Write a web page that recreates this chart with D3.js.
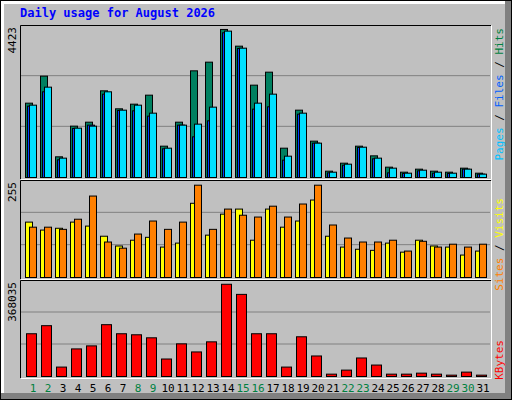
<!DOCTYPE html>
<html>
<head>
<meta charset="utf-8">
<script src="https://cdn.jsdelivr.net/npm/d3@7"></script>
<style>
  body { margin: 0; background: #fff; }
  text { font-family: "DejaVu Sans Mono", monospace; }
</style>
</head>
<body>
<div id="chart"></div>
<script>
const width = 512;
const height = 400;

const days = d3.range(1, 32);
const weekend = [1, 2, 8, 9, 15, 16, 22, 23, 29, 30];

const hits = [2221, 3028, 618, 1534, 1653, 2590, 2052, 2191, 2460, 936, 1653, 3187, 3446, 4423, 3924, 2759,
  3147, 876, 2012, 1086, 189, 428, 936, 647, 309, 159, 249, 189, 159, 279, 129];
const files = [2131, 2560, 528, 1464, 1564, 2490, 2002, 1992, 1833, 857, 1564, 1215, 1693, 4323, 3854, 2042,
  2112, 518, 1892, 1026, 139, 368, 896, 558, 139, 120, 199, 129, 120, 249, 100];
const pages = [2161, 2699, 578, 1474, 1534, 2560, 2012, 2161, 1922, 876, 1564, 1594, 2102, 4373, 3864, 2221,
  2490, 637, 1922, 1026, 159, 398, 906, 578, 279, 129, 219, 159, 129, 249, 100];
const visits = [153, 131, 136, 153, 142, 114, 87, 103, 111, 84, 95, 205, 117, 175, 189, 103,
  189, 139, 156, 214, 114, 84, 78, 75, 95, 70, 103, 87, 84, 62, 73];
const sites = [139, 139, 133, 161, 225, 98, 81, 120, 156, 133, 153, 255, 133, 189, 172, 167,
  197, 167, 203, 255, 145, 109, 98, 98, 103, 73, 100, 84, 92, 84, 92];
const kbytes = [170600, 202800, 37600, 110100, 122200, 206800, 170600, 166500, 154400, 69800, 130300, 98000,
  138300, 368035, 327700, 170600, 170600, 37600, 158500, 81900, 9400, 25500, 73900, 45700, 9400, 9400,
  13400, 9400, 5400, 17500, 5400];

const svg = d3.select('#chart').append('svg')
  .attr('width', width)
  .attr('height', height);

// outer frame
svg.append('rect').attr('width', width).attr('height', height).attr('fill', '#000');
svg.append('rect').attr('x', 1).attr('y', 1).attr('width', width - 2).attr('height', height - 2).attr('fill', '#808080');
svg.append('rect').attr('x', 1).attr('y', 1).attr('width', width - 8).attr('height', height - 8).attr('fill', '#fff');
svg.append('rect').attr('x', 4).attr('y', 4).attr('width', width - 11).attr('height', height - 11).attr('fill', '#c0c0c0');

svg.append('text')
  .attr('x', 20).attr('y', 17)
  .attr('fill', '#0000ff')
  .attr('font-weight', 'bold')
  .attr('font-size', 12)
  .text('Daily usage for August 2026');

const x = d3.scaleBand().domain(days).range([25, 490]);

const panels = [
  { top: 25, bottom: 177, max: 4423 * 1.02, label: '4423' },
  { top: 180, bottom: 277, max: 255 * 1.04, label: '255' },
  { top: 280, bottom: 376, max: 368035 * 1.03, label: '368035' },
];

panels.forEach((p) => {
  p.y = d3.scaleLinear().domain([0, p.max]).range([p.bottom, p.top + 1]);
  const h = p.bottom - p.top;
  [1, 2].forEach((k) => {
    svg.append('line')
      .attr('x1', 21).attr('x2', 490)
      .attr('y1', p.bottom - h * k / 3).attr('y2', p.bottom - h * k / 3)
      .attr('stroke', '#808080');
  });
  svg.append('path').attr('d', `M20.5,${p.bottom + 2}V${p.top + 0.5}H491`).attr('stroke', '#000').attr('fill', 'none');
  svg.append('path').attr('d', `M21,${p.bottom + 2.5}H491.5V${p.top + 0.5}`).attr('stroke', '#fff').attr('fill', 'none');
  svg.append('text')
    .attr('transform', `translate(16,${p.top + 2}) rotate(-90)`)
    .attr('text-anchor', 'end')
    .attr('font-size', 11)
    .attr('fill', '#000')
    .text(p.label);
});

function bars(values, panel, dx, w, color) {
  svg.append('g').selectAll('rect')
    .data(values)
    .join('rect')
    .attr('x', (d, i) => x(days[i]) + dx + 0.5)
    .attr('y', d => panel.y(d) + 0.5)
    .attr('width', w)
    .attr('height', d => panel.bottom - panel.y(d))
    .attr('fill', color)
    .attr('stroke', '#000');
}

bars(hits, panels[0], 0, 7, '#008060');
bars(files, panels[0], 2, 7, '#0040ff');
bars(pages, panels[0], 4, 7, '#00e0ff');
bars(visits, panels[1], 0, 7, '#ffff00');
bars(sites, panels[1], 4, 7, '#ff8000');
bars(kbytes, panels[2], 1, 10, '#ff0000');

// right-side legends
function legend(parts, yTop) {
  const t = svg.append('text')
    .attr('transform', `translate(503,${yTop}) rotate(-90)`)
    .attr('text-anchor', 'end')
    .attr('font-size', 11);
  parts.forEach(([s, c]) => t.append('tspan').attr('fill', c).text(s));
}
legend([['Pages', '#00c0ff'], [' / ', '#000'], ['Files', '#0060ff'], [' / ', '#000'], ['Hits', '#008040']], 28);
legend([['Sites', '#ff8000'], [' / ', '#000'], ['Visits', '#ffff00']], 198);
legend([['KBytes', '#ff0000']], 340);

svg.append('g').selectAll('text')
  .data(days)
  .join('text')
  .attr('x', d => x(d) + 8)
  .attr('y', 392)
  .attr('text-anchor', 'middle')
  .attr('font-family', 'DejaVu Sans')
  .attr('font-size', 11)
  .attr('fill', d => (weekend.includes(d) ? '#008040' : '#000'))
  .text(d => d);
</script>
</body>
</html>
